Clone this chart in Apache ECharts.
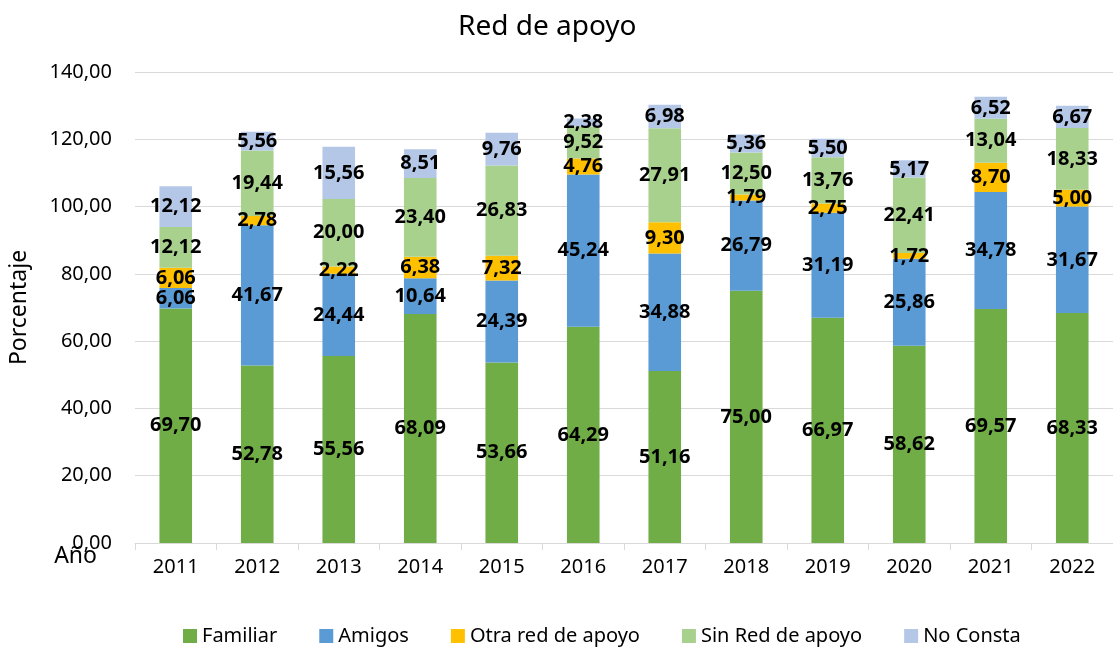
<!DOCTYPE html>
<html>
<head>
<meta charset="utf-8">
<title>Red de apoyo</title>
<script src="https://cdn.jsdelivr.net/npm/echarts@6/dist/echarts.min.js"></script>
<style>
	html, body { margin: 0; padding: 0; background: #fff; }
	#chart { width: 1113px; height: 649px; }
</style>
</head>
<body>
<div id="chart"></div>
<script>
// años
var years = ['2011', '2012', '2013', '2014', '2015', '2016', '2017', '2018', '2019', '2020', '2021', '2022'];

// porcentajes por tipo de red
var familiar = [69.70, 52.78, 55.56, 68.09, 53.66, 64.29, 51.16, 75.00, 66.97, 58.62, 69.57, 68.33];
var amigos = [6.06, 41.67, 24.44, 10.64, 24.39, 45.24, 34.88, 26.79, 31.19, 25.86, 34.78, 31.67];
var otraRed = [6.06, 2.78, 2.22, 6.38, 7.32, 4.76, 9.30, 1.79, 2.75, 1.72, 8.70, 5.00];
var sinRed = [12.12, 19.44, 20.00, 23.40, 26.83, 9.52, 27.91, 12.50, 13.76, 22.41, 13.04, 18.33];
var noConsta = [12.12, 5.56, 15.56, 8.51, 9.76, 2.38, 6.98, 5.36, 5.50, 5.17, 6.52, 6.67];

var font = 'Noto Sans';

function fmt(v) {
	return v.toFixed(2).replace('.', ',');
}

function serie(name, data, color) {
	return {
		name: name,
		type: 'bar',
		stack: 'total',
		barWidth: '40%',
		itemStyle: { color: color },
		label: {
			show: true,
			position: 'inside',
			color: '#000',
			fontFamily: font,
			fontWeight: 'bold',
			fontSize: 20,
			formatter: function (p) { return fmt(p.value); }
		},
		data: data
	};
}

var myChart = echarts.init(document.getElementById('chart'));

myChart.setOption({
	animation: false,
	title: {
		text: 'Red de apoyo',
		left: 453,
		top: 8,
		textStyle: { fontFamily: font, fontWeight: 'normal', fontSize: 28, color: '#000' }
	},
	legend: {
		bottom: -2,
		left: 178,
		itemWidth: 14,
		itemHeight: 14,
		itemGap: 42,
		icon: 'rect',
		textStyle: { fontFamily: font, fontSize: 20, color: '#000' }
	},
	grid: {
		left: 133,
		right: -10,
		top: 72,
		bottom: 106
	},
	xAxis: {
		type: 'category',
		data: years,
		name: 'Año',
		nameLocation: 'start',
		nameGap: 38,
		nameMoveOverlap: false,
		nameTextStyle: { fontFamily: font, fontSize: 23, color: '#000', verticalAlign: 'top', padding: [2, 0, 0, 0] },
		axisLine: { lineStyle: { color: '#d9d9d9', width: 1 } },
		axisTick: { show: true, length: 7, lineStyle: { color: '#d9d9d9' } },
		axisLabel: { fontFamily: font, fontSize: 20, color: '#000', margin: 14 }
	},
	yAxis: {
		type: 'value',
		min: 0,
		max: 140,
		interval: 20,
		name: 'Porcentaje',
		nameLocation: 'middle',
		nameGap: 104,
		nameRotate: 90,
		nameTextStyle: { fontFamily: font, fontSize: 23, color: '#000' },
		axisLine: { show: false },
		axisTick: { show: false },
		splitLine: { lineStyle: { color: '#d9d9d9' } },
		axisLabel: {
			fontFamily: font,
			fontSize: 20,
			color: '#000',
			margin: 23,
			formatter: function (v) { return fmt(v); }
		}
	},
	series: [
		serie('Familiar', familiar, '#70AD47'),
		serie('Amigos', amigos, '#5B9BD5'),
		serie('Otra red de apoyo', otraRed, '#FFC000'),
		serie('Sin Red de apoyo', sinRed, '#A9D18E'),
		serie('No Consta', noConsta, '#B4C7E7')
	]
});
</script>
</body>
</html>
